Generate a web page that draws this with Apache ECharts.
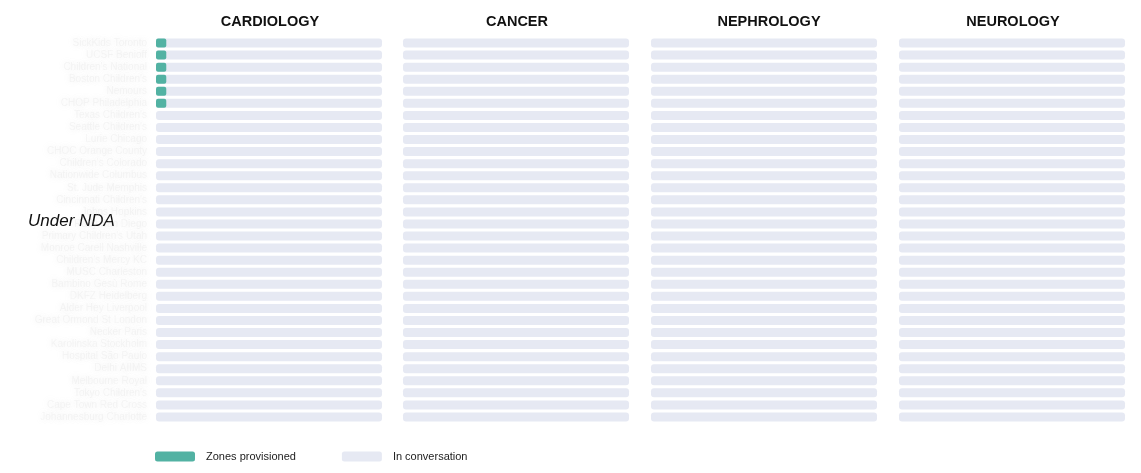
<!DOCTYPE html>
<html>
<head>
<meta charset="utf-8">
<script src="https://cdn.jsdelivr.net/npm/echarts@6/dist/echarts.min.js"></script>
<style>
html,body{margin:0;padding:0;background:#fff;}
#c{width:1141px;height:473px;}
</style>
</head>
<body>
<div id="c"></div>
<script>
var sites = [
  "SickKids Toronto","UCSF Benioff","Children's National","Boston Children's","Nemours",
  "CHOP Philadelphia","Texas Children's","Seattle Children's","Lurie Chicago","CHOC Orange County",
  "Children's Colorado","Nationwide Columbus","St. Jude Memphis","Cincinnati Children's","Johns Hopkins",
  "Rady San Diego","Primary Children's Utah","Monroe Carell Nashville","Children's Mercy KC","MUSC Charleston",
  "Bambino Gesù Rome","DKFZ Heidelberg","Alder Hey Liverpool","Great Ormond St London","Necker Paris",
  "Karolinska Stockholm","Hospital São Paulo","Delhi AIIMS","Melbourne Royal","Tokyo Children's",
  "Cape Town Red Cross","Johannesburg Charlotte"
];
var specialties = ["CARDIOLOGY","CANCER","NEPHROLOGY","NEUROLOGY"];
var totalZones = 22;
var provisionedCardiology = [1,1,1,1,1,1,0,0,0,0,0,0,0,0,0,0,0,0,0,0,0,0,0,0,0,0,0,0,0,0,0,0];
var provisionedCancer     = [0,0,0,0,0,0,0,0,0,0,0,0,0,0,0,0,0,0,0,0,0,0,0,0,0,0,0,0,0,0,0,0];
var provisionedNephrology = [0,0,0,0,0,0,0,0,0,0,0,0,0,0,0,0,0,0,0,0,0,0,0,0,0,0,0,0,0,0,0,0];
var provisionedNeurology  = [0,0,0,0,0,0,0,0,0,0,0,0,0,0,0,0,0,0,0,0,0,0,0,0,0,0,0,0,0,0,0,0];

var provisioned = [provisionedCardiology, provisionedCancer, provisionedNephrology, provisionedNeurology];
var GREEN = '#52b2a3', GRAY = '#e6e9f3';
var gridLefts = [156, 403, 651, 899];
var titleCenters = [265, 512, 764, 1008];
var FONT = 'Liberation Sans, Arial, sans-serif';

var grids = [], xAxes = [], yAxes = [], series = [], titles = [];
specialties.forEach(function (sp, i) {
  grids.push({left: gridLefts[i], width: 226, top: 37, height: 386, containLabel: false});
  xAxes.push({type: 'value', gridIndex: i, min: 0, max: totalZones, show: false});
  yAxes.push({
    type: 'category', gridIndex: i, data: sites, inverse: true,
    axisLine: {show: false}, axisTick: {show: false}, splitLine: {show: false},
    axisLabel: i === 0 ? {
      show: true, interval: 0, margin: 9, fontSize: 10, fontFamily: FONT,
      color: 'rgba(215,215,215,0.2)', textShadowColor: 'rgba(165,165,165,1)', textShadowBlur: 6
    } : {show: false}
  });
  titles.push({
    text: sp, left: titleCenters[i], top: 9, textAlign: 'center',
    textStyle: {fontSize: 14.5, fontWeight: 'bold', color: '#111', fontFamily: FONT}
  });
  series.push({
    name: 'In conversation', type: 'bar', xAxisIndex: i, yAxisIndex: i,
    data: sites.map(function () { return totalZones; }),
    barWidth: 9, barGap: '-100%', silent: true,
    itemStyle: {color: GRAY, borderRadius: 3}
  });
  series.push({
    name: 'Zones provisioned', type: 'bar', xAxisIndex: i, yAxisIndex: i,
    data: provisioned[i], barWidth: 9, barGap: '-100%',
    itemStyle: {color: GREEN, borderRadius: 2}
  });
});

var chart = echarts.init(document.getElementById('c'), null, {renderer: 'canvas'});
chart.setOption({
  animation: false,
  backgroundColor: '#fff',
  title: titles,
  grid: grids,
  xAxis: xAxes,
  yAxis: yAxes,
  legend: {
    left: 155, top: 451, padding: 0, itemWidth: 40, itemHeight: 10, itemGap: 46,
    icon: 'roundRect',
    data: [
      {name: 'Zones provisioned', itemStyle: {color: GREEN}},
      {name: 'In conversation', itemStyle: {color: GRAY}}
    ],
    textStyle: {fontSize: 11, color: '#222', padding: [0, 0, 0, 6], fontFamily: FONT}
  },
  graphic: [{
    type: 'text', left: 28, top: 213,
    style: {text: 'Under NDA', fontSize: 17, fontStyle: 'italic', fill: '#111', fontFamily: FONT}
  }],
  series: series
});
</script>
</body>
</html>
